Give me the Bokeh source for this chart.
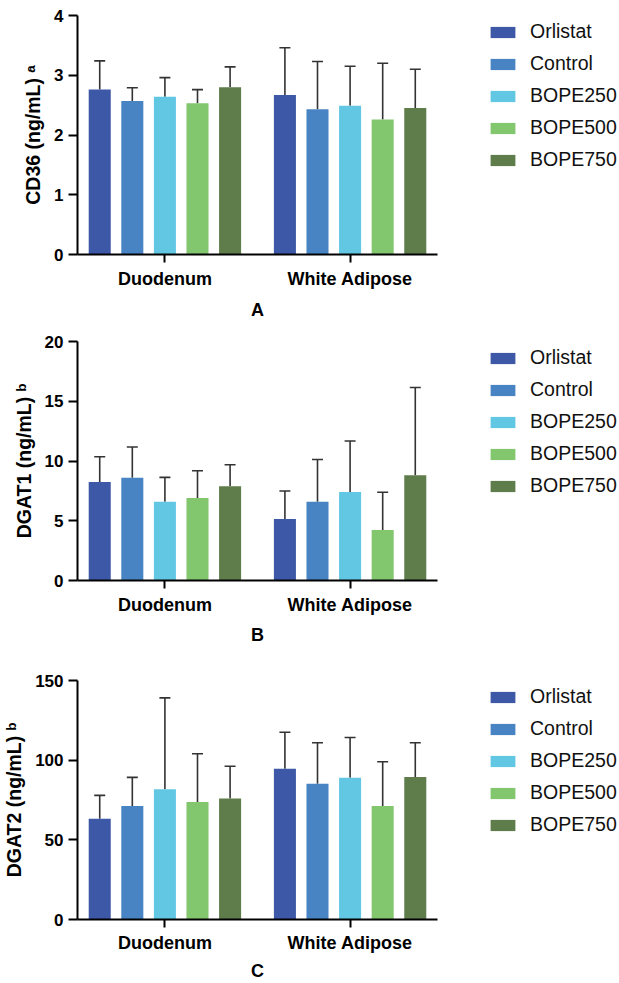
from bokeh.plotting import figure
from bokeh.layouts import column
from bokeh.models import (ColumnDataSource, Whisker, TeeHead, FixedTicker,
                          Legend, LegendItem, Range1d)
from bokeh.embed import file_html
from bokeh.resources import INLINE

# ---------------- data ----------------
groups = ["Duodenum", "White Adipose"]
series = ["Orlistat", "Control", "BOPE250", "BOPE500", "BOPE750"]
colors = ["#3D58A7", "#4884C4", "#62C7E3", "#82C66E", "#5F7D4A"]

# Panel A: CD36 (ng/mL)
cd36_duodenum = [2.76, 2.57, 2.64, 2.53, 2.80]
cd36_duodenum_sd = [0.48, 0.22, 0.32, 0.23, 0.34]
cd36_adipose = [2.67, 2.43, 2.49, 2.26, 2.45]
cd36_adipose_sd = [0.79, 0.80, 0.66, 0.94, 0.65]

# Panel B: DGAT1 (ng/mL)
dgat1_duodenum = [8.25, 8.60, 6.60, 6.91, 7.88]
dgat1_duodenum_sd = [2.11, 2.57, 2.03, 2.28, 1.81]
dgat1_adipose = [5.15, 6.60, 7.41, 4.23, 8.80]
dgat1_adipose_sd = [2.34, 3.53, 4.26, 3.15, 7.35]

# Panel C: DGAT2 (ng/mL)
dgat2_duodenum = [63.3, 71.2, 81.8, 73.7, 76.0]
dgat2_duodenum_sd = [14.6, 18.0, 57.3, 30.3, 20.2]
dgat2_adipose = [94.6, 85.2, 89.0, 71.2, 89.4]
dgat2_adipose_sd = [22.9, 25.7, 25.2, 27.8, 21.5]

y_ticks_a = [0, 1, 2, 3, 4]
y_ticks_b = [0, 5, 10, 15, 20]
y_ticks_c = [0, 50, 100, 150]

FONT = "Liberation Sans"
BAR_STEP = 0.176   # distance between neighbouring bars (group spacing = 1)
BAR_W = 0.119


def panel(duo, duo_sd, adi, adi_sd, yticks, ylabel, letter,
          top_border, bottom_border, label_gap, tick_gap):
    p = figure(width=619, frame_width=360, frame_height=239,
               min_border_left=77, min_border_right=182,
               min_border_top=top_border, min_border_bottom=bottom_border,
               x_range=Range1d(-0.472, 1.472),
               y_range=Range1d(yticks[0], yticks[-1]),
               output_backend="svg", toolbar_location=None)
    p.outline_line_color = None
    p.grid.visible = False
    p.background_fill_color = "white"
    p.border_fill_color = "white"

    items = []
    for i, name in enumerate(series):
        xs = [g + (i - 2) * BAR_STEP for g in range(len(groups))]
        tops = [duo[i], adi[i]]
        uppers = [duo[i] + duo_sd[i], adi[i] + adi_sd[i]]
        src = ColumnDataSource(dict(x=xs, top=tops, upper=uppers))
        w = Whisker(base="x", lower="top", upper="upper", source=src,
                    dimension="height", line_color="#333333", line_width=1.6,
                    upper_head=TeeHead(size=11, line_color="#333333",
                                       line_width=1.6),
                    lower_head=None)
        p.add_layout(w)
        r = p.vbar(x="x", top="top", width=BAR_W, bottom=0, source=src,
                   fill_color=colors[i], line_color=None)
        items.append(LegendItem(label=name, renderers=[r]))

    leg = Legend(items=items, location=(50, 83), orientation="vertical",
                 glyph_width=31, glyph_height=14, label_height=20,
                 spacing=9, padding=0, margin=0, label_standoff=12,
                 label_text_font=FONT, label_text_font_size="19.5px",
                 label_text_color="#111111",
                 border_line_color=None, background_fill_alpha=0)
    p.add_layout(leg, "right")

    # y axis
    ya = p.yaxis[0]
    ya.ticker = FixedTicker(ticks=yticks)
    ya.minor_tick_line_color = None
    ya.axis_line_width = 2
    ya.major_tick_line_width = 2
    ya.major_tick_out = 9
    ya.major_tick_in = 0
    ya.axis_line_color = "black"
    ya.major_tick_line_color = "black"
    ya.major_label_text_font = FONT
    ya.major_label_text_font_style = "bold"
    ya.major_label_text_font_size = "17px"
    ya.major_label_text_color = "black"
    ya.major_label_standoff = 5
    ya.axis_label = ylabel
    ya.axis_label_text_font = FONT
    ya.axis_label_text_font_style = "bold"
    ya.axis_label_text_font_size = "19.5px"
    ya.axis_label_text_color = "black"
    ya.axis_label_standoff = 7

    # x axis
    xa = p.xaxis[0]
    xa.ticker = FixedTicker(ticks=[0, 1])
    xa.major_label_overrides = {0: groups[0], 1: groups[1]}
    xa.minor_tick_line_color = None
    xa.axis_line_width = 2
    xa.major_tick_line_width = 2
    xa.major_tick_out = 8
    xa.major_tick_in = 0
    xa.axis_line_color = "black"
    xa.major_tick_line_color = "black"
    xa.major_label_text_font = FONT
    xa.major_label_text_font_style = "bold"
    xa.major_label_text_font_size = "18px"
    xa.major_label_text_color = "black"
    xa.major_label_standoff = tick_gap
    xa.axis_label = letter
    xa.axis_label_text_font = FONT
    xa.axis_label_text_font_style = "bold"
    xa.axis_label_text_font_size = "18px"
    xa.axis_label_text_color = "black"
    xa.axis_label_standoff = label_gap
    return p


pa = panel(cd36_duodenum, cd36_duodenum_sd, cd36_adipose, cd36_adipose_sd,
           y_ticks_a, "CD36 (ng/mL) \u1d43", "A", 15, 68, 8, 6)
pb = panel(dgat1_duodenum, dgat1_duodenum_sd, dgat1_adipose, dgat1_adipose_sd,
           y_ticks_b, "DGAT1 (ng/mL) \u1d47", "B", 19, 70, 7, 6)
pc = panel(dgat2_duodenum, dgat2_duodenum_sd, dgat2_adipose, dgat2_adipose_sd,
           y_ticks_c, "DGAT2 (ng/mL) \u1d47", "C", 30, 64, 5, 5)

layout = column(pa, pb, pc, spacing=0)
open("out.html", "w").write(file_html(layout, INLINE))
